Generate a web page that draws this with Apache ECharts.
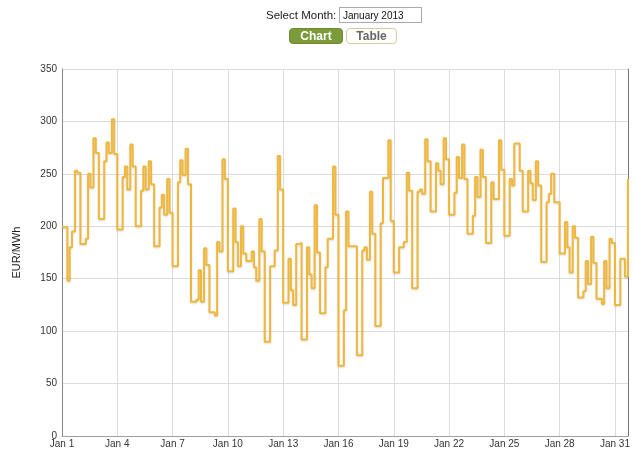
<!DOCTYPE html>
<html>
<head>
<meta charset="utf-8">
<title>Prices January 2013</title>
<script src="https://cdn.jsdelivr.net/npm/echarts@6/dist/echarts.min.js"></script>
<style>
  html, body { margin: 0; padding: 0; background: #fff; }
  body { width: 634px; height: 450px; position: relative; overflow: hidden;
         font-family: "Liberation Sans", Arial, sans-serif; }
  #chart { position: absolute; left: 0; top: 0; width: 634px; height: 450px; }
  .label { position: absolute; left: 266px; top: 8px; font-size: 11.5px; color: #222; line-height: 14px; }
  .month { position: absolute; left: 339px; top: 7px; width: 78px; height: 14px;
           border: 1px solid #aaa; font: 10px "Liberation Sans", Arial, sans-serif;
           padding: 0 0 0 3px; color: #111; margin: 0; }
  .btn { position: absolute; top: 28px; height: 14px; line-height: 14px; border-radius: 4px;
         font-size: 12px; font-weight: bold; text-align: center; }
  .btn.on { left: 289px; width: 52px; background: #7b9b3a; color: #fff; border: 1px solid #6d8a30; }
  .btn.off { left: 346px; width: 49px; background: #fff; color: #666; border: 1px solid #d8c8a4; }
</style>
</head>
<body>
<div id="chart"></div>
<div class="label">Select Month:</div>
<input class="month" type="text" value="January 2013">
<div class="btn on">Chart</div>
<div class="btn off">Table</div>
<script>
(function(){
	'use strict';

	var monthName = 'Jan';
	// start hour of each price block in a day
	var blockHours = [0, 7, 10, 13, 17, 20];
	// one row per day (Jan 1 .. Jan 31), one value per block
	var dailyPrices = [
		[199, 148, 180, 195, 253, 251],
		[183, 188, 250, 237, 284, 270],
		[207, 262, 280, 270, 302, 269],
		[197, 247, 257, 235, 278, 257],
		[200, 234, 257, 235, 262, 240],
		[181, 218, 230, 211, 245, 213],
		[162, 242, 263, 249, 274, 240],
		[128, 130, 158, 128, 179, 163],
		[118, 115, 185, 176, 264, 245],
		[157, 217, 185, 162, 200, 174],
		[167, 176, 161, 148, 207, 176],
		[ 90, 162, 162, 177, 267, 235],
		[127, 169, 139, 125, 183, 184],
		[ 92, 180, 154, 141, 220, 175],
		[117, 161, 188, 188, 257, 211],
		[ 67, 120, 214, 181, 181, 181],
		[ 77, 177, 180, 168, 233, 193],
		[105, 203, 246, 246, 282, 205],
		[156, 180, 180, 185, 251, 234],
		[141, 233, 235, 231, 283, 262],
		[214, 260, 253, 240, 284, 264],
		[211, 232, 266, 246, 278, 245],
		[193, 210, 247, 228, 273, 247],
		[184, 242, 226, 226, 282, 254],
		[191, 245, 239, 279, 279, 253],
		[214, 253, 241, 225, 262, 239],
		[166, 223, 231, 250, 223, 223],
		[174, 204, 180, 156, 200, 189],
		[132, 138, 167, 145, 190, 165],
		[131, 126, 167, 141, 188, 184],
		[125, 169, 169, 152, 245]
	];

	// x = days since Jan 1 00:00
	var points = [];
	dailyPrices.forEach(function(row, d){
		row.forEach(function(v, b){
			points.push([d + blockHours[b] / 24, v]);
		});
	});

	var myChart = echarts.init(document.getElementById('chart'));
	var option = {
		animation: false,
		grid: { left: 62, right: 6, top: 69, bottom: 14 },
		xAxis: {
			type: 'value',
			min: 0,
			max: 'dataMax',
			interval: 3,
			axisLine: { lineStyle: { color: '#a0a0a0' } },
			axisTick: { show: false },
			splitLine: { lineStyle: { color: '#dcdcdc' } },
			axisLabel: {
				color: '#333',
				fontSize: 10,
				margin: 3,
				fontFamily: 'Liberation Sans, Arial, sans-serif',
				formatter: function(v){
					return (v % 3 === 0) ? monthName + ' ' + (v + 1) : '';
				}
			}
		},
		yAxis: [{
			type: 'value',
			min: 0,
			max: 350,
			interval: 50,
			name: 'EUR/MWh',
			nameLocation: 'middle',
			nameRotate: 90,
			nameGap: 40,
			nameTextStyle: { color: '#222', fontSize: 11, fontFamily: 'Liberation Sans, Arial, sans-serif' },
			axisLine: { show: true, lineStyle: { color: '#888' } },
			axisTick: { show: false },
			splitLine: { lineStyle: { color: '#dcdcdc' } },
			axisLabel: { color: '#333', fontSize: 10, margin: 5, fontFamily: 'Liberation Sans, Arial, sans-serif' }
		}, {
			type: 'value',
			position: 'right',
			min: 0,
			max: 350,
			axisLine: { show: true, lineStyle: { color: '#777' } },
			axisTick: { show: false },
			axisLabel: { show: false },
			splitLine: { show: false }
		}],
		series: [{
			type: 'line',
			step: 'end',
			showSymbol: false,
			data: points,
			lineStyle: {
				color: '#efb73c',
				width: 2,
				shadowColor: 'rgba(0,0,0,0.15)',
				shadowBlur: 2,
				shadowOffsetY: 1
			}
		}]
	};
	myChart.setOption(option);
}());
</script>
</body>
</html>
